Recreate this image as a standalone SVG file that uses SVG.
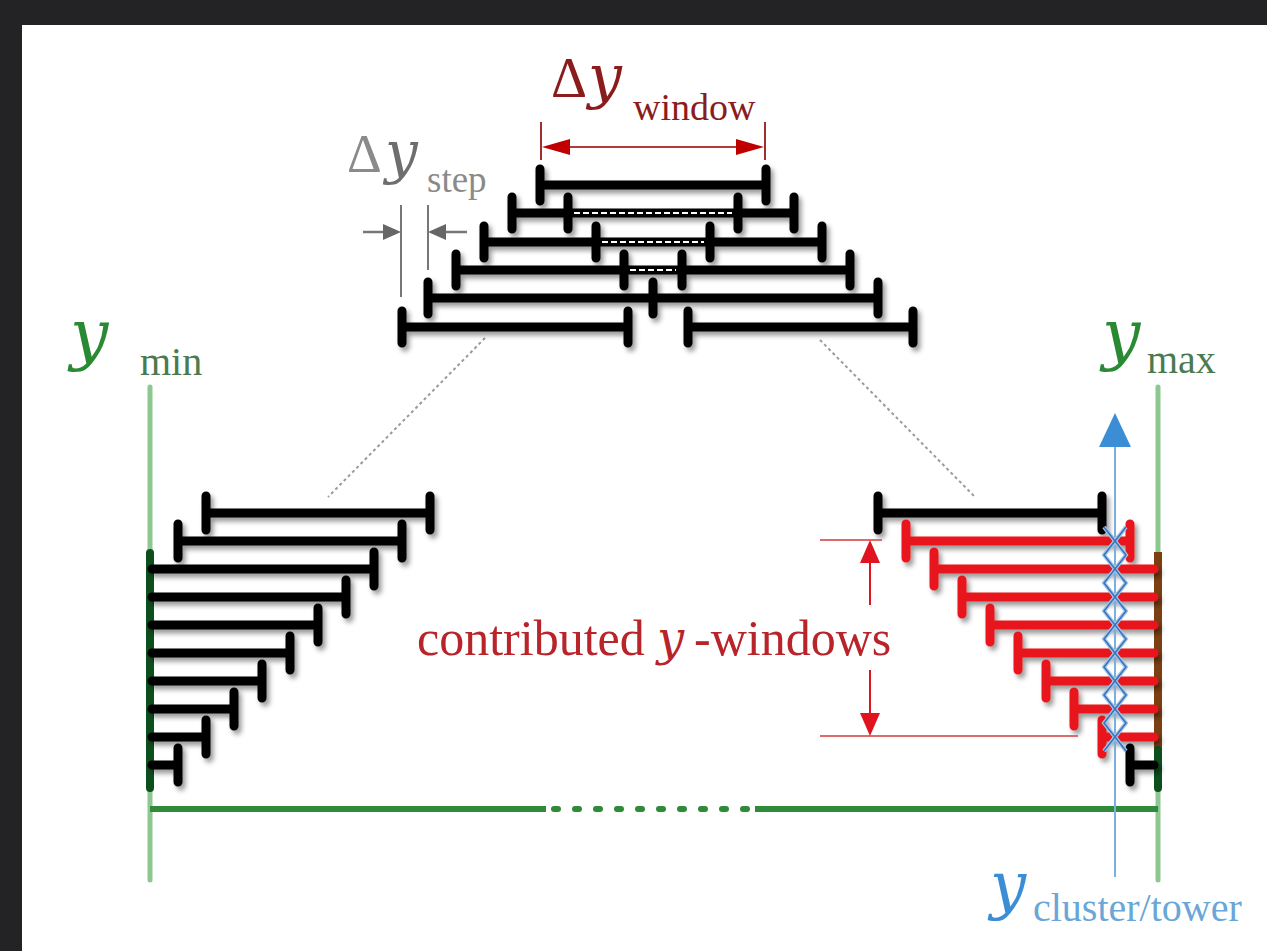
<svg xmlns="http://www.w3.org/2000/svg" width="1267" height="951" viewBox="0 0 1267 951">
  <defs>
    <filter id="sh" x="-10%" y="-50%" width="120%" height="200%">
      <feDropShadow dx="3" dy="4" stdDeviation="2.5" flood-color="#000" flood-opacity="0.4"/>
    </filter>
    <style>
      .bar { fill: none; stroke: #000; stroke-width: 9; stroke-linecap: round; }
      .rbar { fill: none; stroke: #e8121c; stroke-width: 9; stroke-linecap: round; }
      .ovl { fill: none; stroke: #fff; stroke-width: 2; stroke-dasharray: 6 3; }
      .guide { fill: none; stroke: #9a9a9a; stroke-width: 2; stroke-dasharray: 3 3; }
      .axis { fill: none; stroke: #8cc890; stroke-width: 5; stroke-linecap: round; }
      .serif { font-family: "Liberation Serif", "DejaVu Serif", serif; }
      .it { font-family: "DejaVu Serif", "Liberation Serif", serif; font-style: italic; }
    </style>
  </defs>

  <!-- frame -->
  <rect x="0" y="0" width="1267" height="951" fill="#232326"/>
  <rect x="22" y="25" width="1245" height="926" fill="#fff"/>

  <!-- dotted guide lines from the zoomed stack down to the ends of the range -->
  <g id="connectors">
    <path class="guide" d="M485 338 L328 497"/>
    <path class="guide" d="M820 340 L975 497"/>
  </g>

  <!-- zoomed stack of sliding windows -->
  <g id="window-stack" filter="url(#sh)">
    <path class="bar" d="M540 185 H766 M540 169 V201 M766 169 V201"/>
    <path class="bar" d="M512 213 H794 M512 197 V229 M568 197 V229 M738 197 V229 M794 197 V229"/>
    <path class="bar" d="M484 242 H822 M484 226 V258 M596 226 V258 M710 226 V258 M822 226 V258"/>
    <path class="bar" d="M456 270 H850 M456 254 V286 M624 254 V286 M682 254 V286 M850 254 V286"/>
    <path class="bar" d="M428 298 H878 M428 282 V314 M653 282 V314 M878 282 V314"/>
    <path class="bar" d="M402 327 H628 M402 311 V343 M628 311 V343"/>
    <path class="bar" d="M688 327 H913 M688 311 V343 M913 311 V343"/>
  </g>
  <g id="window-overlaps">
    <path class="ovl" d="M574 213 H732"/>
    <path class="ovl" d="M602 242 H704"/>
    <path class="ovl" d="M630 270 H676"/>
  </g>

  <!-- step dimension -->
  <g id="step-dim">
    <path d="M401 205 V297 M428 205 V270" stroke="#777" stroke-width="2" fill="none"/>
    <path d="M363 232 H386 M467 232 H443" stroke="#777" stroke-width="2.5" fill="none"/>
    <path d="M401 232 L383 224 L383 240 Z M428 232 L446 224 L446 240 Z" fill="#666"/>
    <text class="serif" x="347" y="172" font-size="54" fill="#8a8a8a">Δ</text>
    <text class="it" x="385" y="172" font-size="58" fill="#6e6e6e">y</text>
    <text class="serif" x="427" y="192" font-size="37" fill="#8a8a8a">step</text>
  </g>

  <!-- window width dimension -->
  <g id="window-dim">
    <path d="M541 122 V160 M765 122 V160" stroke="#9a3030" stroke-width="2" fill="none"/>
    <path d="M565 147 H741" stroke="#b23a3a" stroke-width="2" fill="none"/>
    <path d="M542 147 L570 139 L570 155 Z M764 147 L736 139 L736 155 Z" fill="#c00000"/>
    <text class="serif" x="551" y="97" font-size="56" fill="#8b1c1c">Δ</text>
    <text class="it" x="588" y="97" font-size="60" fill="#8b1c1c">y</text>
    <text class="serif" x="633" y="120" font-size="38" fill="#8b1c1c">window</text>
  </g>

  <!-- y_min axis -->
  <g id="y-min">
    <path class="axis" d="M150 387 V880"/>
    <path d="M150 553 V788" stroke="#0d4f1c" stroke-width="8" stroke-linecap="round"/>
    <text class="it" x="70" y="357" font-size="68" fill="#2a8a34">y</text>
    <text class="serif" x="140" y="375" font-size="40" fill="#4a7a50">min</text>
  </g>

  <!-- y_max axis -->
  <g id="y-max">
    <path class="axis" d="M1158 387 V880"/>
    <path d="M1158 552 V750" stroke="#7b3f12" stroke-width="8"/>
    <path d="M1158 750 V788" stroke="#0d4f1c" stroke-width="8" stroke-linecap="round"/>
    <text class="it" x="1102" y="357" font-size="68" fill="#2a8a34">y</text>
    <text class="serif" x="1147" y="373" font-size="40" fill="#4a7a50">max</text>
  </g>

  <!-- range line with break -->
  <g id="range">
    <path d="M150 809 H546 M755 809 H1158" stroke="#2f8a3a" stroke-width="6" fill="none"/>
    <path d="M554 809 H752" stroke="#2f8a3a" stroke-width="6" stroke-linecap="round" stroke-dasharray="4 17" fill="none"/>
  </g>

  <!-- windows at the lower edge -->
  <g id="left-windows" filter="url(#sh)">
    <path class="bar" d="M206 513 H430 M206 496 V530 M430 496 V530"/>
    <path class="bar" d="M178 541 H402 M178 524 V558 M402 524 V558"/>
    <path class="bar" d="M152 569 H374 M374 552 V586"/>
    <path class="bar" d="M152 597 H346 M346 580 V614"/>
    <path class="bar" d="M152 625 H318 M318 608 V642"/>
    <path class="bar" d="M152 653 H290 M290 636 V670"/>
    <path class="bar" d="M152 681 H262 M262 664 V698"/>
    <path class="bar" d="M152 709 H234 M234 692 V726"/>
    <path class="bar" d="M152 737 H206 M206 720 V754"/>
    <path class="bar" d="M152 765 H178 M178 748 V782"/>
  </g>

  <!-- windows at the upper edge -->
  <g id="right-windows" filter="url(#sh)">
    <path class="bar" d="M878 513 H1102 M878 496 V530 M1102 496 V530"/>
    <path class="rbar" d="M906 541 H1130 M906 524 V558 M1130 524 V558"/>
    <path class="rbar" d="M934 569 H1154 M934 552 V586"/>
    <path class="rbar" d="M962 597 H1154 M962 580 V614"/>
    <path class="rbar" d="M990 625 H1154 M990 608 V642"/>
    <path class="rbar" d="M1018 653 H1154 M1018 636 V670"/>
    <path class="rbar" d="M1046 681 H1154 M1046 664 V698"/>
    <path class="rbar" d="M1074 709 H1154 M1074 692 V726"/>
    <path class="rbar" d="M1102 737 H1154 M1102 720 V754"/>
    <path class="bar" d="M1130 765 H1154 M1130 748 V782"/>
  </g>

  <!-- cluster / tower position -->
  <g id="cluster-axis">
    <path d="M1115 445 V877" stroke="#7ab0dd" stroke-width="2" fill="none"/>
    <path d="M1115 413 L1099 447 L1131 447 Z" fill="#3b8ed6"/>
    <path d="M1104 527 L1126 555 L1104 583 L1126 611 L1104 639 L1126 667 L1104 695 L1126 723 L1104 751 M1126 527 L1104 555 L1126 583 L1104 611 L1126 639 L1104 667 L1126 695 L1104 723 L1126 751" stroke="#9cc8ec" stroke-width="4" fill="none"/>
    <path d="M1104 527 L1126 555 L1104 583 L1126 611 L1104 639 L1126 667 L1104 695 L1126 723 L1104 751 M1126 527 L1104 555 L1126 583 L1104 611 L1126 639 L1104 667 L1126 695 L1104 723 L1126 751" stroke="#3f6fb8" stroke-width="1.5" fill="none"/>
    <text class="it" x="990" y="907" font-size="64" fill="#3b8ed6">y</text>
    <text class="serif" x="1033" y="921" font-size="40" fill="#6aa6d8">cluster/tower</text>
  </g>

  <!-- contributed windows dimension -->
  <g id="contributed-dim">
    <path d="M820 540 H882 M820 736 H1078" stroke="#e06a6a" stroke-width="2" fill="none"/>
    <path d="M870 560 V605 M870 670 V716" stroke="#e0141e" stroke-width="2" fill="none"/>
    <path d="M870 540 L860 563 L880 563 Z M870 736 L860 713 L880 713 Z" fill="#e0141e"/>
    <text class="serif" y="655" font-size="50" fill="#b8242a"><tspan x="417">contributed</tspan><tspan class="it" x="657" font-size="48">y</tspan><tspan x="694">-windows</tspan></text>
  </g>
</svg>
